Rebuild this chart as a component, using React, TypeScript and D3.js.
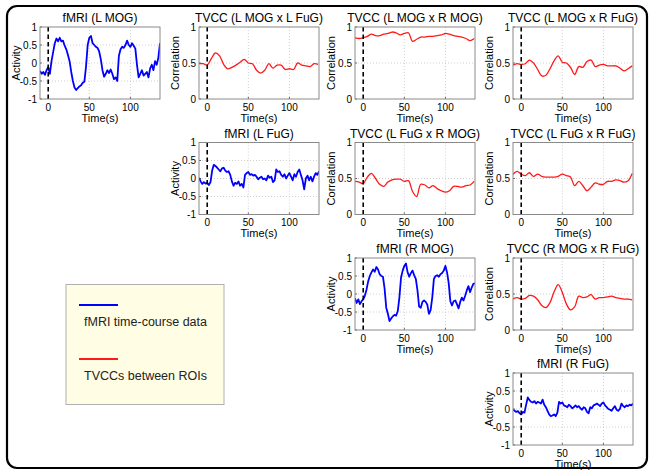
import React from 'react';
import * as d3 from 'd3';

// sampling of the traces (seconds)
const fmriStart = -10;
const fmriStep = 2;
const tvccStart = -10;
const tvccStep = 5;

// fMRI time-courses, one value every 2 s from -10 s
const fmriLMOG = [
  -0.22, -0.3, -0.25, -0.33, -0.2, -0.12, -0.3, 0.05, 0.3, 0.55,
  0.68, 0.6, 0.7, 0.6, 0.62, 0.48, 0.38, 0.22, 0.05, -0.25,
  -0.5, -0.68, -0.75, -0.7, -0.65, -0.62, -0.55, -0.52, -0.1, 0.5,
  0.7, 0.75, 0.55, 0.5, 0.45, 0.42, 0.32, 0.1, -0.2, -0.38,
  -0.3, -0.2, -0.28, -0.18, -0.3, -0.45, -0.4, -0.5, 0.2, 0.38,
  0.45, 0.42, 0.5, 0.62, 0.5, 0.45, 0.55, 0.48, 0.4, -0.05,
  -0.4, -0.3, -0.2, -0.35, -0.3, -0.25, -0.4, -0.15, -0.05, -0.2,
  0.05, -0.05, 0.15, 0.55,
];
const fmriLFuG = [
  0.02, -0.08, -0.15, -0.1, -0.14, -0.12, -0.18, -0.1, 0.22, 0.38,
  0.35, 0.3, 0.25, 0.2, 0.28, 0.3, 0.22, 0.18, 0.2, 0.1,
  -0.08, -0.2, -0.12, -0.15, -0.08, -0.2, -0.15, -0.25, 0.1, 0.15,
  0.18, 0.1, 0.12, 0.08, 0.1, 0.05, -0.02, 0.02, 0.05, -0.02,
  0.0, -0.05, 0.08, 0.02, 0.05, -0.1, -0.05, 0.25, 0.18, 0.2,
  0.1, 0.05, 0.12, 0.0, 0.08, 0.15, 0.05, -0.05, 0.12, 0.05,
  0.18, 0.25, 0.1, -0.05, -0.3, 0.0, 0.08, -0.05, 0.05, -0.08,
  0.05, 0.15, 0.1, 0.2,
];
const fmriRMOG = [
  -0.12, -0.25, -0.15, -0.28, -0.2, -0.15, -0.05, 0.12, 0.35, 0.5,
  0.6, 0.68, 0.62, 0.75, 0.68, 0.55, 0.5, 0.48, 0.15, -0.38,
  -0.55, -0.75, -0.68, -0.62, -0.58, -0.6, -0.48, -0.1, 0.45, 0.65,
  0.78, 0.85, 0.6, 0.48, 0.58, 0.65, 0.52, 0.42, 0.1, -0.35,
  -0.38, -0.22, -0.18, -0.22, -0.3, -0.55, -0.45, -0.1, 0.42, 0.5,
  0.52, 0.48, 0.55, 0.58, 0.65, 0.78, 0.6, 0.3, -0.2, -0.32,
  -0.2, -0.18, -0.28, -0.4, -0.22, -0.1, -0.18, -0.05, 0.1, 0.22,
  0.05, 0.18, 0.28, 0.3,
];
const fmriRFuG = [
  -0.02, -0.05, -0.08, -0.06, -0.12, -0.15, -0.08, -0.1, 0.12, 0.32,
  0.25, 0.2, 0.18, 0.22, 0.15, 0.2, 0.18, 0.15, 0.26, 0.12,
  0.05, -0.05, -0.15, -0.2, -0.18, -0.15, -0.2, -0.1, 0.2, 0.15,
  0.18, 0.1, 0.08, 0.05, 0.12, 0.08, 0.02, 0.05, 0.1, 0.05,
  0.08, 0.02, -0.02, 0.05, 0.02, -0.08, -0.12, 0.05, 0.02, 0.1,
  0.12, 0.15, 0.12, 0.08, 0.15, 0.18, 0.1, 0.05, 0.0, -0.02,
  -0.05, 0.02, 0.08, -0.02, -0.05, 0.0, 0.15, 0.08, 0.05, 0.1,
  0.08, 0.12, 0.1, 0.15,
];

// TVCCs, one value every 5 s from -10 s
const tvccLMOGxLFuG = [
  0.49, 0.49, 0.47, 0.56, 0.64, 0.6, 0.48, 0.42, 0.44, 0.47,
  0.51, 0.55, 0.5, 0.49, 0.4, 0.36, 0.4, 0.49, 0.43, 0.47,
  0.47, 0.41, 0.42, 0.41, 0.5, 0.47, 0.46, 0.45, 0.49, 0.48,
];
const tvccLMOGxRMOG = [
  0.85, 0.84, 0.85, 0.87, 0.9, 0.88, 0.88, 0.9, 0.91, 0.93,
  0.92, 0.89, 0.91, 0.92, 0.8, 0.83, 0.86, 0.86, 0.87, 0.87,
  0.88, 0.89, 0.91, 0.9, 0.88, 0.87, 0.86, 0.84, 0.81, 0.84,
];
const tvccLMOGxRFuG = [
  0.47, 0.49, 0.48, 0.49, 0.54, 0.5, 0.41, 0.32, 0.33, 0.42,
  0.53, 0.6, 0.51, 0.5, 0.44, 0.34, 0.45, 0.44, 0.52, 0.54,
  0.45, 0.47, 0.48, 0.46, 0.46, 0.46, 0.43, 0.39, 0.42, 0.46,
];
const tvccLFuGxRMOG = [
  0.46, 0.45, 0.43, 0.52, 0.57, 0.5, 0.42, 0.39, 0.45, 0.48,
  0.49, 0.49, 0.46, 0.47, 0.32, 0.25, 0.42, 0.41, 0.37, 0.4,
  0.36, 0.33, 0.31, 0.33, 0.39, 0.39, 0.38, 0.4, 0.41, 0.46,
];
const tvccLFuGxRFuG = [
  0.56, 0.6, 0.56, 0.54, 0.58, 0.53, 0.56, 0.53, 0.52, 0.52,
  0.52, 0.53, 0.56, 0.54, 0.52, 0.4, 0.46, 0.4, 0.33, 0.38,
  0.44, 0.42, 0.42, 0.46, 0.46, 0.48, 0.47, 0.45, 0.47, 0.57,
];
const tvccRMOGxRFuG = [
  0.43, 0.45, 0.43, 0.44, 0.48, 0.47, 0.42, 0.34, 0.31, 0.38,
  0.53, 0.63, 0.52, 0.36, 0.28, 0.32, 0.47, 0.45, 0.46, 0.49,
  0.43, 0.45, 0.45, 0.46, 0.47, 0.45, 0.44, 0.43, 0.43, 0.42,
];

const timeDomain = [-10, 136];
const xTicks = [0, 50, 100];
const activityTicks = [-1, -0.5, 0, 0.5, 1];
const correlationTicks = [0, 0.5, 1];
const legendLabels = ['fMRI time-course data', 'TVCCs between ROIs'];

type Panel = { title: string; kind: 'fmri' | 'tvcc'; values: number[]; row: number; col: number };

const panels: Panel[] = [
  { title: 'fMRI (L MOG)', kind: 'fmri', values: fmriLMOG, row: 0, col: 0 },
  { title: 'TVCC (L MOG x L FuG)', kind: 'tvcc', values: tvccLMOGxLFuG, row: 0, col: 1 },
  { title: 'TVCC (L MOG x R MOG)', kind: 'tvcc', values: tvccLMOGxRMOG, row: 0, col: 2 },
  { title: 'TVCC (L MOG x R FuG)', kind: 'tvcc', values: tvccLMOGxRFuG, row: 0, col: 3 },
  { title: 'fMRI (L FuG)', kind: 'fmri', values: fmriLFuG, row: 1, col: 1 },
  { title: 'TVCC (L FuG x R MOG)', kind: 'tvcc', values: tvccLFuGxRMOG, row: 1, col: 2 },
  { title: 'TVCC (L FuG x R FuG)', kind: 'tvcc', values: tvccLFuGxRFuG, row: 1, col: 3 },
  { title: 'fMRI (R MOG)', kind: 'fmri', values: fmriRMOG, row: 2, col: 2 },
  { title: 'TVCC (R MOG x R FuG)', kind: 'tvcc', values: tvccRMOGxRFuG, row: 2, col: 3 },
  { title: 'fMRI (R FuG)', kind: 'fmri', values: fmriRFuG, row: 3, col: 3 },
];

const W = 652;
const H = 470;
const colLeft = [40, 199, 355, 513];
const rowTop = [27, 142.5, 258, 373];
const plotW = 120;
const plotH = 72;
const font = '"Liberation Sans", Arial, sans-serif';

function PanelPlot({ p, idx }: { p: Panel; idx: number }) {
  const x0 = colLeft[p.col];
  const y0 = rowTop[p.row];
  const isFmri = p.kind === 'fmri';
  const x = d3.scaleLinear().domain(timeDomain).range([x0, x0 + plotW]);
  const y = d3.scaleLinear().domain(isFmri ? [-1, 1] : [0, 1]).range([y0 + plotH, y0]);
  const yTicks = isFmri ? activityTicks : correlationTicks;
  const start = isFmri ? fmriStart : tvccStart;
  const step = isFmri ? fmriStep : tvccStep;
  const line = d3
    .line<number>()
    .x((_, i) => x(start + i * step))
    .y(d => y(d))
    .curve(isFmri ? d3.curveLinear : d3.curveCatmullRom);
  const clipId = `clip${idx}`;

  return (
    <g>
      <defs>
        <clipPath id={clipId}>
          <rect x={x0} y={y0} width={plotW} height={plotH} />
        </clipPath>
      </defs>
      {/* grid */}
      {xTicks.filter(t => t !== 0).map(t => (
        <line key={'gx' + t} x1={x(t)} x2={x(t)} y1={y0} y2={y0 + plotH}
          stroke="#c4c4c4" strokeWidth={0.8} strokeDasharray="1,2" />
      ))}
      {yTicks.filter((t, i) => i > 0 && i < yTicks.length - 1).map(t => (
        <line key={'gy' + t} x1={x0} x2={x0 + plotW} y1={y(t)} y2={y(t)}
          stroke="#c4c4c4" strokeWidth={0.8} strokeDasharray="1,2" />
      ))}
      {/* ticks */}
      {xTicks.map(t => (
        <g key={'tx' + t}>
          <line x1={x(t)} x2={x(t)} y1={y0 + plotH} y2={y0 + plotH - 2} stroke="#666" />
          <text x={x(t)} y={y0 + plotH + 11.5} textAnchor="middle" fontSize={10} fill="#000">{t}</text>
        </g>
      ))}
      {yTicks.map(t => (
        <g key={'ty' + t}>
          <line x1={x0} x2={x0 + 2} y1={y(t)} y2={y(t)} stroke="#666" />
          <text x={x0 - 3} y={y(t) + 3.5} textAnchor="end" fontSize={10} fill="#000">{String(t)}</text>
        </g>
      ))}
      {/* trace */}
      <path d={line(p.values) || ''} fill="none" stroke={isFmri ? '#0000ff' : '#ff1a1a'}
        strokeWidth={isFmri ? 1.8 : 1.3} strokeLinejoin="round" clipPath={`url(#${clipId})`} />
      {/* stimulus onset */}
      <line x1={x(0)} x2={x(0)} y1={y0} y2={y0 + plotH} stroke="#000" strokeWidth={1.6} strokeDasharray="4.5,3" />
      <rect x={x0} y={y0} width={plotW} height={plotH} fill="none" stroke="#8a8a8a" strokeWidth={1} />
      <text x={x0 + plotW / 2} y={y0 - 5} textAnchor="middle" fontSize={12} fill="#000">{p.title}</text>
      <text x={x0 + plotW / 2} y={y0 + plotH + 22.5} textAnchor="middle" fontSize={11} fill="#000">Time(s)</text>
      <text transform={`translate(${x0 - 20},${y0 + plotH / 2}) rotate(-90)`} textAnchor="middle" fontSize={11} fill="#000">
        {isFmri ? 'Activity' : 'Correlation'}
      </text>
    </g>
  );
}

export default function App() {
  return (
    <svg width={W} height={H} style={{ position: 'absolute', left: 0, top: 0, background: '#fff' }} fontFamily={font}>
      <rect x={7} y={6} width={640} height={462} rx={10} fill="#fff" stroke="#000" strokeWidth={2.2} />
      {panels.map((p, i) => <PanelPlot key={p.title} p={p} idx={i} />)}
      {/* legend */}
      <rect x={66} y={284.5} width={158} height={120} fill="#fffde4" stroke="#b0b0b0" strokeWidth={1} />
      <line x1={79} x2={118} y1={305} y2={305} stroke="#0000ff" strokeWidth={1.8} />
      <text x={84} y={326} fontSize={12.5} fill="#222">{legendLabels[0]}</text>
      <line x1={79} x2={118} y1={359} y2={359} stroke="#ff1a1a" strokeWidth={1.8} />
      <text x={84} y={380} fontSize={12.5} fill="#222">{legendLabels[1]}</text>
    </svg>
  );
}
